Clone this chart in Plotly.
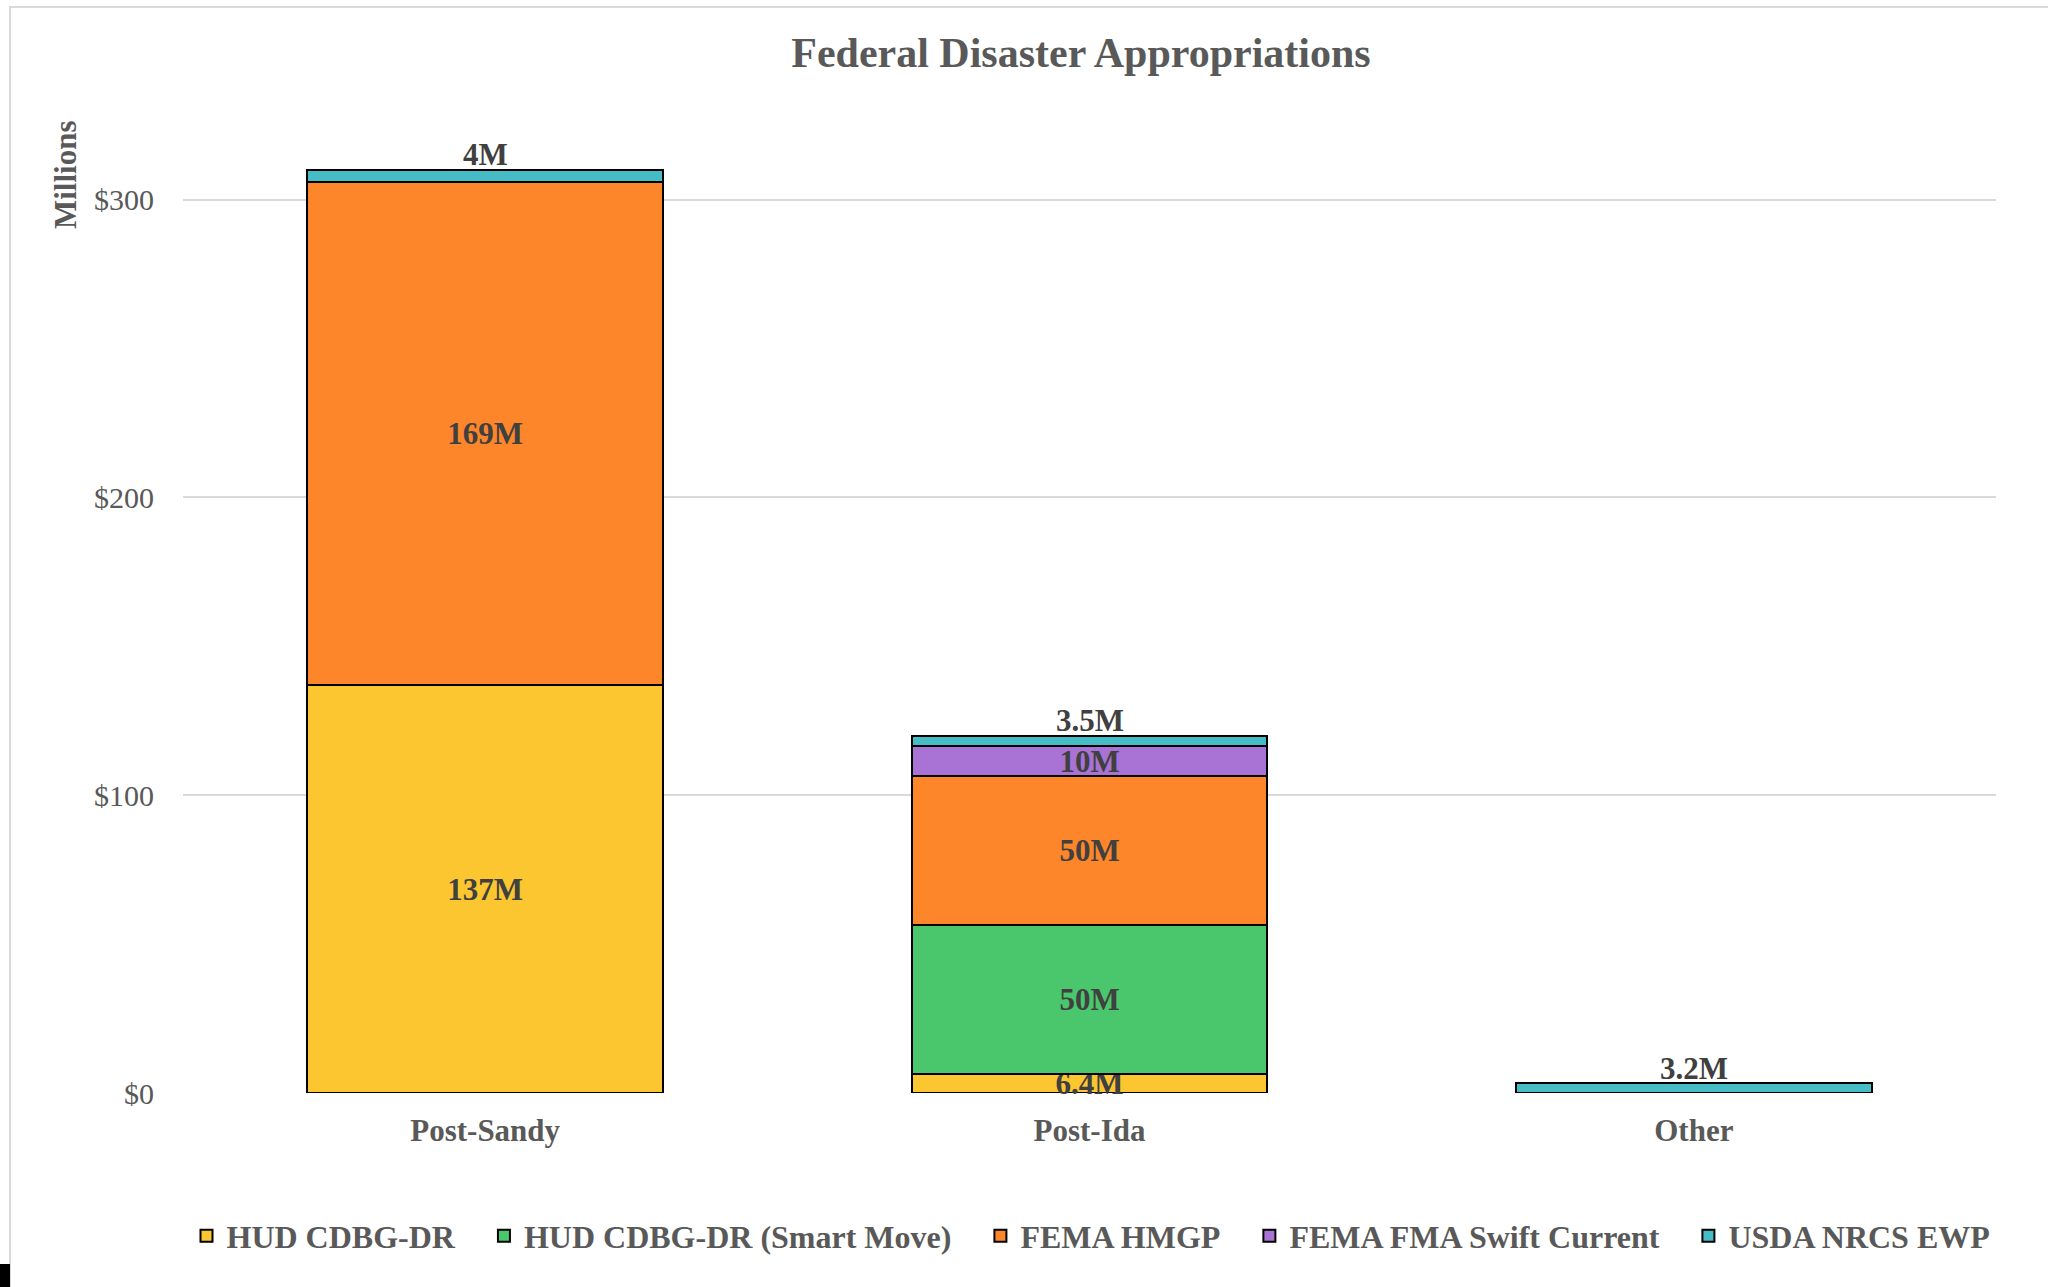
import plotly.graph_objects as go

categories = ["Post-Sandy", "Post-Ida", "Other"]
series_names = ["HUD CDBG-DR", "HUD CDBG-DR (Smart Move)", "FEMA HMGP",
                "FEMA FMA Swift Current", "USDA NRCS EWP"]
hud_cdbg_dr = [137, 6.4, None]
hud_smart_move = [None, 50, None]
fema_hmgp = [169, 50, None]
fema_swift = [None, 10, None]
usda_ewp = [4, 3.5, 3.2]
colors = ["#FCC630", "#4AC76C", "#FD862A", "#A873D4", "#45BCC6"]
y_ticks = [0, 100, 200, 300]
y_tick_labels = ["$0", "$100", "$200", "$300"]

W, H = 2048, 1287
L, R, T, B = 183, 52, 110, 194
pw, ph = W - L - R, H - T - B

FONT = "Liberation Serif"
GRAY = "#595959"
DARK = "#404040"

fig = go.Figure()
all_series = [hud_cdbg_dr, hud_smart_move, fema_hmgp, fema_swift, usda_ewp]
for i, (name, vals) in enumerate(zip(series_names, all_series)):
    last = i == len(series_names) - 1
    labels = ["" if (v is None or last) else f"{v:g}M" for v in vals]
    legend_name = name if last else name + "\u00a0" * 3
    fig.add_trace(go.Bar(
        x=categories, y=vals, name=legend_name,
        marker=dict(color=colors[i], line=dict(color="#000000", width=2)),
        text=labels,
        textposition="inside",
        insidetextanchor="middle",
        constraintext="none",
        textfont=dict(family=FONT, size=31, color=DARK, weight="bold"),
        cliponaxis=False,
        hovertemplate="%{x}: %{y}M<extra>" + name + "</extra>",
    ))

# labels of the top (USDA) segments sit just above each stack
for j, cat in enumerate(categories):
    total = sum(s[j] for s in all_series if s[j] is not None)
    v = usda_ewp[j]
    if v is None:
        continue
    fig.add_annotation(x=cat, y=total, xref="x", yref="y",
                       text=f"<b>{v:g}M</b>", showarrow=False,
                       yanchor="middle", yshift=15,
                       font=dict(family=FONT, size=31, color=DARK))

fig.update_layout(
    width=W, height=H,
    margin=dict(l=L, r=R, t=T, b=B, autoexpand=False),
    barmode="stack", bargap=0.412,
    paper_bgcolor="white", plot_bgcolor="white",
    font=dict(family=FONT, color=GRAY),
    title=dict(text="<b>Federal Disaster Appropriations</b>",
               x=(1081 - L) / pw, xref="paper", xanchor="center",
               y=1 - 52 / H, yref="container", yanchor="middle",
               font=dict(family=FONT, size=42, color=GRAY)),
    showlegend=True,
    legend=dict(orientation="h", xref="container", x=1091 / W, xanchor="center",
                yref="container", y=1 - 1236 / H, yanchor="middle",
                font=dict(family=FONT, size=32, color=GRAY, weight="bold"),
                traceorder="normal", itemwidth=30),
    xaxis=dict(range=[-0.5, 2.5], showgrid=False, showline=False, ticks="",
               tickfont=dict(family=FONT, size=31, color=GRAY, weight="bold"),
               ticklabelstandoff=16, zeroline=False),
    yaxis=dict(range=[0, (H - B - T) / 2.978], tickvals=y_ticks,
               ticktext=y_tick_labels,
               showgrid=True, gridcolor="#D9D9D9", gridwidth=2,
               zeroline=False, showline=False, ticks="",
               tickfont=dict(family=FONT, size=30, color=GRAY),
               ticklabelstandoff=28),
)

fig.add_annotation(text="<b>Millions</b>", textangle=-90,
                   xref="paper", yref="paper",
                   x=(65 - L) / pw, y=(H - B - 174) / ph,
                   xanchor="center", yanchor="middle", showarrow=False,
                   font=dict(family=FONT, size=31, color=GRAY))

# chart-area border and corner artifact
fig.add_shape(type="rect", xref="paper", yref="paper",
              x0=(10 - L) / pw, x1=(W + 20 - L) / pw,
              y0=(H - B - (H + 20)) / ph, y1=(H - B - 7) / ph,
              line=dict(color="#D9D9D9", width=2), fillcolor="rgba(0,0,0,0)",
              layer="below")
fig.add_shape(type="rect", xref="paper", yref="paper",
              x0=(0 - L) / pw, x1=(10 - L) / pw,
              y0=(H - B - H) / ph, y1=(H - B - 1264) / ph,
              line=dict(width=0), fillcolor="#000000")

fig.write_html("out.html", config={"displayModeBar": False},
               post_script="document.body.style.margin='0';"
                           "document.body.style.overflow='hidden';")
